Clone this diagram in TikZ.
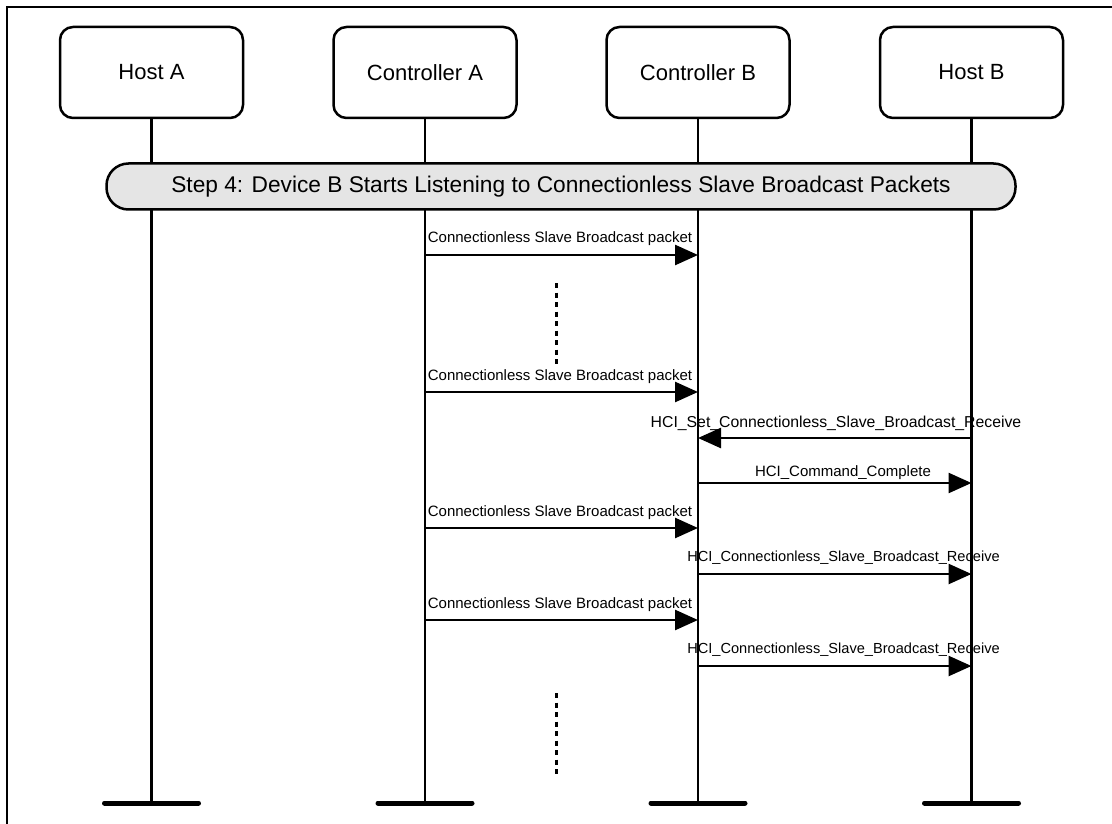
\documentclass[tikz,border=0pt]{standalone}
\usepackage{fontspec}
\setmainfont{Liberation Sans}
\usetikzlibrary{arrows.meta}
\definecolor{bannergray}{RGB}{229,229,229}
\begin{document}
\begin{tikzpicture}[x=1pt,y=-1pt,
  actor/.style={draw, line width=2.5pt, rounded corners=13pt, minimum width=183pt, minimum height=91pt, fill=white, font=\fontsize{22}{25}\selectfont, inner sep=0pt},
  life/.style={line width=2.6pt},
  endbar/.style={line width=5pt, line cap=round},
  msg/.style={line width=2.6pt, -{Triangle[length=23pt,width=20pt]}},
  lbl/.style={font=\fontsize{15}{17}\selectfont, inner sep=0pt, anchor=base},
  dots/.style={line width=3pt, dash pattern=on 5pt off 4.5pt},
  banner/.style={draw, line width=2.5pt, fill=bannergray, rounded corners=22pt, minimum width=909pt, minimum height=46pt, inner sep=0pt, font=\fontsize{22.7}{25}\selectfont},
]
\useasboundingbox (0,0) rectangle (1112,824);
\draw[line width=2.5pt] (7,840) -- (7,7) -- (1130,7);

% actors
\node[actor] (hostA) at (151.5,72.5) {Host A};
\node[actor] (ctrlA) at (425,72.5) {Controller A};
\node[actor] (ctrlB) at (698,72.5) {Controller B};
\node[actor] (hostB) at (971.5,72.5) {Host B};

\coordinate (hostA-end) at (151.5,803);
\coordinate (ctrlA-end) at (425,803);
\coordinate (ctrlB-end) at (698,803);
\coordinate (hostB-end) at (971.5,803);

\foreach \n in {hostA,ctrlA,ctrlB,hostB}{
  \draw[life] (\n.south) -- (\n-end);
  \draw[endbar] ([xshift=-47pt]\n-end) -- ([xshift=47pt]\n-end);
}

% banner
\node[banner] (step) at (561,186.5) {Step 4: Device B Starts Listening to Connectionless Slave Broadcast Packets};

% message end points
\coordinate (m1a) at (425,255);   \coordinate (m1b) at (698,255);
\coordinate (m2a) at (425,392);   \coordinate (m2b) at (698,392);
\coordinate (m3a) at (971.5,438); \coordinate (m3b) at (698,438);
\coordinate (m4a) at (698,483);   \coordinate (m4b) at (971.5,483);
\coordinate (m5a) at (425,528);   \coordinate (m5b) at (698,528);
\coordinate (m6a) at (698,574);   \coordinate (m6b) at (971.5,574);
\coordinate (m7a) at (425,620);   \coordinate (m7b) at (698,620);
\coordinate (m8a) at (698,666);   \coordinate (m8b) at (971.5,666);

\draw[msg] (m1a) -- (m1b);
\draw[msg] (m2a) -- (m2b);
\draw[msg] (m3a) -- (m3b);
\draw[msg] (m4a) -- (m4b);
\draw[msg] (m5a) -- (m5b);
\draw[msg] (m6a) -- (m6b);
\draw[msg] (m7a) -- (m7b);
\draw[msg] (m8a) -- (m8b);

\node[lbl] (l1) at (560,243) {Connectionless Slave Broadcast packet};
\node[lbl] (l2) at (560,380) {Connectionless Slave Broadcast packet};
\node[lbl, font=\fontsize{15.8}{17}\selectfont] (l3) at (836,427) {HCI\_Set\_Connectionless\_Slave\_Broadcast\_Receive};
\node[lbl] (l4) at (843,476) {HCI\_Command\_Complete};
\node[lbl] (l5) at (560,516) {Connectionless Slave Broadcast packet};
\node[lbl, font=\fontsize{14.6}{17}\selectfont] (l6) at (843.5,561) {HCI\_Connectionless\_Slave\_Broadcast\_Receive};
\node[lbl] (l7) at (560,608) {Connectionless Slave Broadcast packet};
\node[lbl, font=\fontsize{14.6}{17}\selectfont] (l8) at (843.5,653) {HCI\_Connectionless\_Slave\_Broadcast\_Receive};

% continuation dots
\coordinate (d1a) at (556,283); \coordinate (d1b) at (556,368);
\coordinate (d2a) at (556,693); \coordinate (d2b) at (556,778);
\draw[dots] (d1a) -- (d1b);
\draw[dots] (d2a) -- (d2b);
\end{tikzpicture}
\end{document}
